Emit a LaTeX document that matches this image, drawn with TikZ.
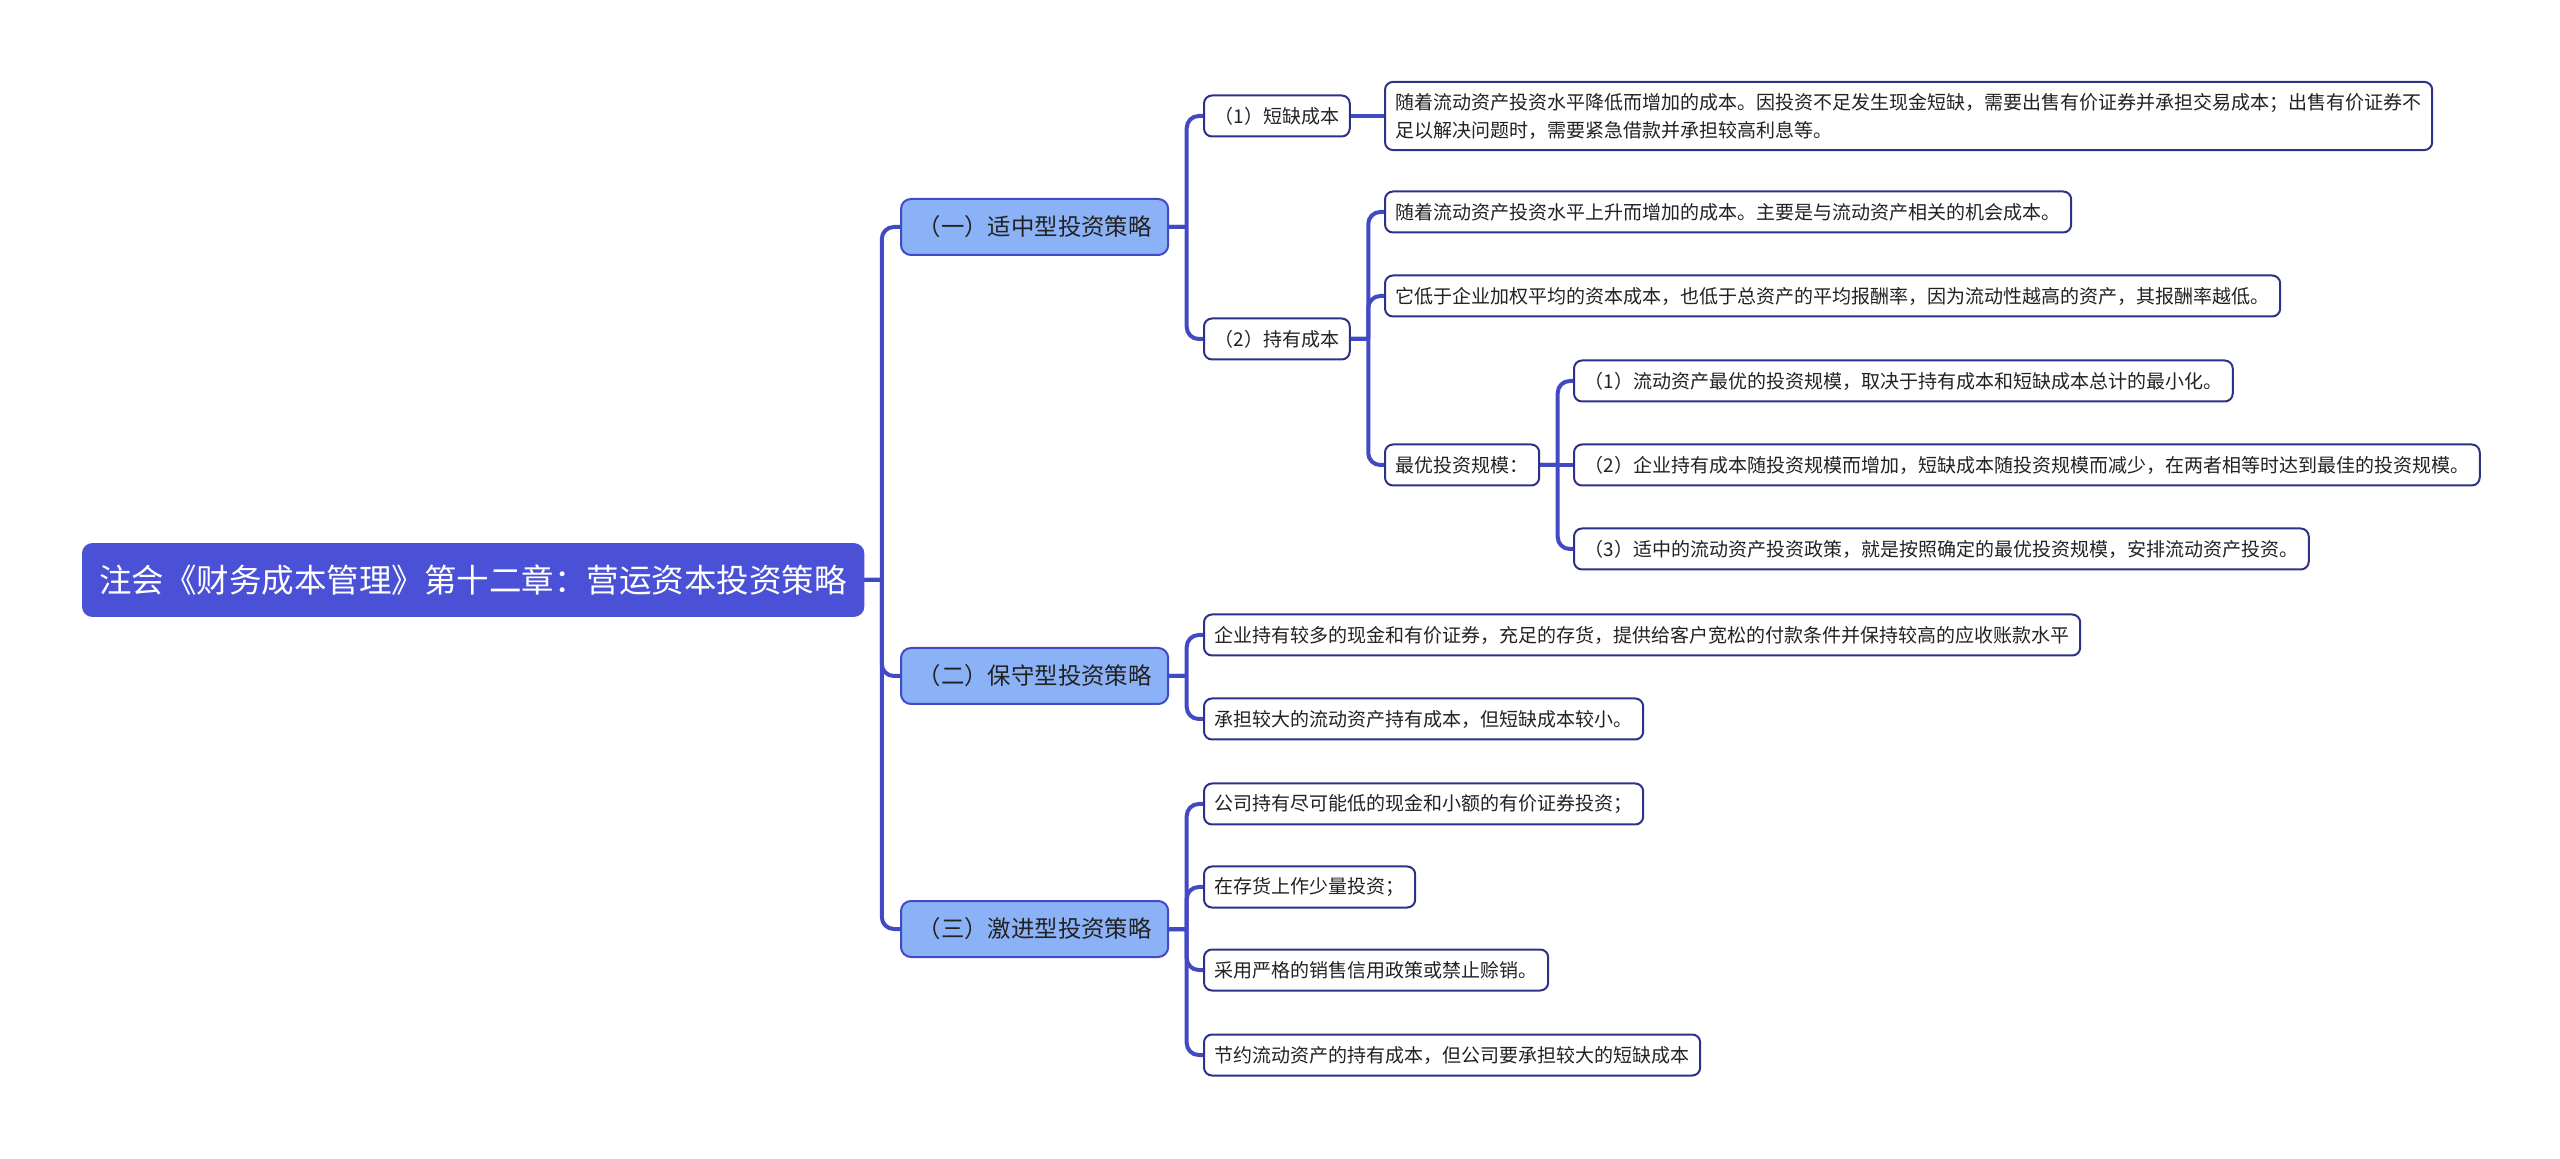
\documentclass[tikz,border=0pt]{standalone}
\usepackage{fontspec}
\setmainfont{Noto Sans CJK SC}
\usepackage{tikz}

\definecolor{rootblue}{RGB}{75,81,214}
\definecolor{catblue}{RGB}{139,178,246}
\definecolor{edgeblue}{RGB}{66,73,196}
\definecolor{navy}{RGB}{45,50,135}
\definecolor{ink}{RGB}{34,34,34}

\begin{document}
\begin{tikzpicture}[x=0.5pt, y=-0.5pt,
        root/.style={draw=rootblue, fill=rootblue, text=white, rounded corners=5pt,
            font=\fontsize{16.25}{20}\selectfont, minimum height=36.5pt, inner xsep=8.5pt, anchor=west},
        cat/.style={draw=edgeblue, line width=1pt, fill=catblue, text=ink, rounded corners=5pt,
            font=\fontsize{11.7}{14}\selectfont, minimum height=28pt, inner xsep=8.3pt, anchor=west},
        leaf/.style={draw=navy, line width=1pt, fill=white, text=ink, rounded corners=4pt,
            font=\fontsize{9.5}{14}\selectfont, minimum height=20.5pt, inner xsep=5.3pt, anchor=west, align=left},
        branch/.style={draw=edgeblue, line width=2pt, rounded corners=6pt,
            to path={(\tikztostart.east) -- ++(17.5,0) ++(0,0) |- (\tikztotarget.west)}},
        level/.style={to path={(\tikztostart.east) -- (\tikztotarget.west)}}]
        \useasboundingbox (0,0) rectangle (2560,1159);

        \node[root] (root) at (82,580) {注会《财务成本管理》第十二章：营运资本投资策略};

        \node[cat] (c1) at (900,227) {（一）适中型投资策略};
        \node[cat] (c2) at (900,676) {（二）保守型投资策略};
        \node[cat] (c3) at (900,929) {（三）激进型投资策略};

        \node[leaf] (s1) at (1203,116) {（1）短缺成本};
        \node[leaf] (s2) at (1203,339) {（2）持有成本};
        \node[leaf, inner ysep=5.5pt] (s1a) at (1384,116) {随着流动资产投资水平降低而增加的成本。因投资不足发生现金短缺，需要出售有价证券并承担交易成本；出售有价证券不\\足以解决问题时，需要紧急借款并承担较高利息等。};

        \node[leaf] (h1) at (1384,212) {随着流动资产投资水平上升而增加的成本。主要是与流动资产相关的机会成本。};
        \node[leaf] (h2) at (1384,296) {它低于企业加权平均的资本成本，也低于总资产的平均报酬率，因为流动性越高的资产，其报酬率越低。};
        \node[leaf] (h3) at (1384,465) {最优投资规模：};

        \node[leaf] (o1) at (1573,381) {（1）流动资产最优的投资规模，取决于持有成本和短缺成本总计的最小化。};
        \node[leaf] (o2) at (1573,465) {（2）企业持有成本随投资规模而增加，短缺成本随投资规模而减少，在两者相等时达到最佳的投资规模。};
        \node[leaf] (o3) at (1573,549) {（3）适中的流动资产投资政策，就是按照确定的最优投资规模，安排流动资产投资。};

        \node[leaf] (b1) at (1203,635) {企业持有较多的现金和有价证券，充足的存货，提供给客户宽松的付款条件并保持较高的应收账款水平};
        \node[leaf] (b2) at (1203,719) {承担较大的流动资产持有成本，但短缺成本较小。};

        \node[leaf] (a1) at (1203,804) {公司持有尽可能低的现金和小额的有价证券投资；};
        \node[leaf] (a2) at (1203,887) {在存货上作少量投资；};
        \node[leaf] (a3) at (1203,970) {采用严格的销售信用政策或禁止赊销。};
        \node[leaf] (a4) at (1203,1055) {节约流动资产的持有成本，但公司要承担较大的短缺成本};

        \path[branch]
        (root) edge (c1)
               edge (c2)
               edge (c3)
        (c1) edge (s1)
             edge (s2)
        (s1) edge [level] (s1a)
        (s2) edge (h1)
             edge (h2)
             edge (h3)
        (h3) edge (o1)
             edge [level] (o2)
             edge (o3)
        (c2) edge (b1)
             edge (b2)
        (c3) edge (a1)
             edge (a2)
             edge (a3)
             edge (a4);

    \end{tikzpicture}
\end{document}
